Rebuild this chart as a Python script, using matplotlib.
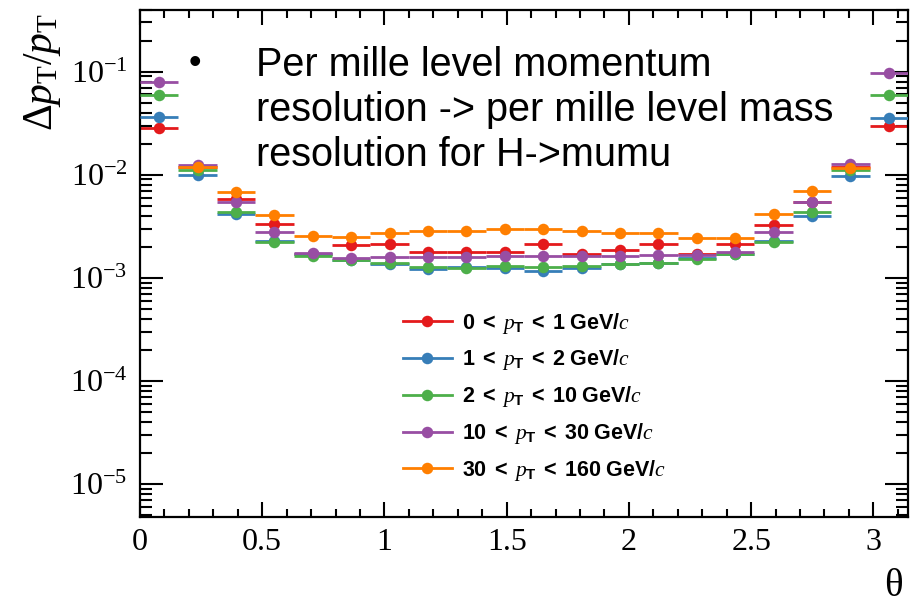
import numpy as np
import matplotlib
matplotlib.use("Agg")
import matplotlib.pyplot as plt
from matplotlib.lines import Line2D
from matplotlib.ticker import LogLocator, MultipleLocator, FuncFormatter

plt.rcParams['mathtext.fontset'] = 'custom'
plt.rcParams['mathtext.rm'] = 'Liberation Serif'
plt.rcParams['mathtext.it'] = 'Liberation Serif:italic'
plt.rcParams['mathtext.bf'] = 'Liberation Sans:bold'
plt.rcParams['mathtext.sf'] = 'Liberation Sans'

# ---- data ----
n_bins = 20
theta_max = np.pi
labels = [r"$\mathbf{0\ <}\ p_{\mathbf{T}}\ \mathbf{<\ 1\ GeV/}c$",
          r"$\mathbf{1\ <}\ p_{\mathbf{T}}\ \mathbf{<\ 2\ GeV/}c$",
          r"$\mathbf{2\ <}\ p_{\mathbf{T}}\ \mathbf{<\ 10\ GeV/}c$",
          r"$\mathbf{10\ <}\ p_{\mathbf{T}}\ \mathbf{<\ 30\ GeV/}c$",
          r"$\mathbf{30\ <}\ p_{\mathbf{T}}\ \mathbf{<\ 160\ GeV/}c$"]
colors = ["#e41a1c", "#377eb8", "#4daf4a", "#984ea3", "#ff7f00"]

res_0_1 = [0.0283, 0.0119, 0.00586, 0.00336, 0.00170, 0.00210, 0.00212, 0.00180, 0.00178, 0.00178,
           0.00211, 0.00170, 0.00188, 0.00214, 0.00170, 0.00215, 0.00327, 0.00550, 0.0118, 0.0298]
res_1_2 = [0.0365, 0.0100, 0.00419, 0.00229, 0.00170, 0.00150, 0.00137, 0.00122, 0.00128, 0.00126,
           0.00117, 0.00125, 0.00136, 0.00138, 0.00155, 0.00170, 0.00228, 0.00395, 0.0098, 0.0355]
res_2_10 = [0.0594, 0.0112, 0.00432, 0.00223, 0.00164, 0.00148, 0.00138, 0.00128, 0.00125, 0.00130,
            0.00128, 0.00130, 0.00137, 0.00138, 0.00151, 0.00172, 0.00222, 0.00433, 0.0112, 0.0594]
res_10_30 = [0.0800, 0.0123, 0.00545, 0.00277, 0.00175, 0.00156, 0.00161, 0.00160, 0.00160, 0.00164,
             0.00164, 0.00162, 0.00164, 0.00168, 0.00168, 0.00180, 0.00279, 0.00547, 0.0128, 0.0965]
res_30_160 = [np.nan, 0.0118, 0.00681, 0.00410, 0.00253, 0.00251, 0.00271, 0.00283, 0.00286, 0.00297,
              0.00297, 0.00283, 0.00275, 0.00270, 0.00244, 0.00244, 0.00418, 0.00688, 0.0116, np.nan]
err_0_1 = [0.002, 0.0008, 0.0004, 0.0002, 0.00015, 0.00018, 0.00018, 0.00017, 0.00017, 0.00017,
           0.00018, 0.00017, 0.00017, 0.00018, 0.00016, 0.00018, 0.00022, 0.0004, 0.0008, 0.002]
series = [res_0_1, res_1_2, res_2_10, res_10_30, res_30_160]
bullet_lines = ["Per mille level momentum",
                "resolution -> per mille level mass",
                "resolution for H->mumu"]

edges = np.linspace(0, theta_max, n_bins + 1)
centers = 0.5 * (edges[1:] + edges[:-1])
half_w = 0.5 * (edges[1] - edges[0])

W, H = 916, 606
fig = plt.figure(figsize=(W/100, H/100), dpi=100)
ax = fig.add_axes([140/W, 1-517/H, (908-140)/W, (517-9.5)/H])

for i, (vals, c) in enumerate(zip(series, colors)):
    v = np.array(vals, dtype=float)
    yerr = np.array(err_0_1) if i == 0 else 0.03 * v
    ax.errorbar(centers, v, xerr=half_w, yerr=yerr, fmt='o', color=c, ms=8.3,
                elinewidth=2, capsize=0, mew=0, zorder=2 + i)

ax.set_yscale('log')
ax.set_xlim(0, theta_max)
ax.set_ylim(4.8e-6, 0.4)

ax.xaxis.set_major_locator(MultipleLocator(0.5))
ax.xaxis.set_minor_locator(MultipleLocator(0.1))
ax.yaxis.set_major_locator(LogLocator(base=10, numticks=20))
ax.yaxis.set_minor_locator(LogLocator(base=10, subs=np.arange(2, 10), numticks=20))
ax.yaxis.set_minor_formatter(FuncFormatter(lambda v, p: ""))
ax.yaxis.set_major_formatter(FuncFormatter(lambda v, p: r"$10^{%d}$" % int(round(np.log10(v)))))
ax.xaxis.set_major_formatter(FuncFormatter(lambda v, p: "%g" % v))

for sp in ax.spines.values():
    sp.set_linewidth(1.6)
ax.tick_params(axis='both', which='both', direction='in', top=True, right=True, width=1.5)
ax.tick_params(axis='x', which='major', length=11, labelsize=23, pad=8)
ax.tick_params(axis='x', which='minor', length=6)
ax.tick_params(axis='y', which='major', length=16.5, labelsize=23, pad=9)
ax.tick_params(axis='y', which='minor', length=8.5)
for lab in ax.get_xticklabels() + ax.get_yticklabels():
    lab.set_family('Liberation Serif')

ax.set_ylabel(r"$\Delta p_{\mathrm{T}}/p_{\mathrm{T}}$", fontsize=30)
ax.yaxis.set_label_coords((63-140)/768, (517-13)/507.5)
ax.yaxis.label.set_ha('right')
fig.text(893/W, 1-586/H, "θ", fontsize=28, family='Liberation Serif', ha='center', va='center')

handles = [Line2D([], [], color=c, marker='o', ms=8.3, lw=2, mew=0) for c in colors]
leg = ax.legend(handles, labels, loc='upper left', bbox_to_anchor=((394-140)/768, (517-302)/507.5),
                frameon=False, fontsize=15.5, handlelength=2.3, handletextpad=0.45, labelspacing=0.55,
                borderaxespad=0)

fig.text(195/W, 1-63/H, "•", fontsize=26, family='Liberation Sans', ha='center', va='center')
for k, line in enumerate(bullet_lines):
    fig.text(256/W, 1-(76 + 45*k)/H, line, fontsize=28.5, family='Liberation Sans',
             ha='left', va='baseline')

fig.savefig("out.png", dpi=100)
